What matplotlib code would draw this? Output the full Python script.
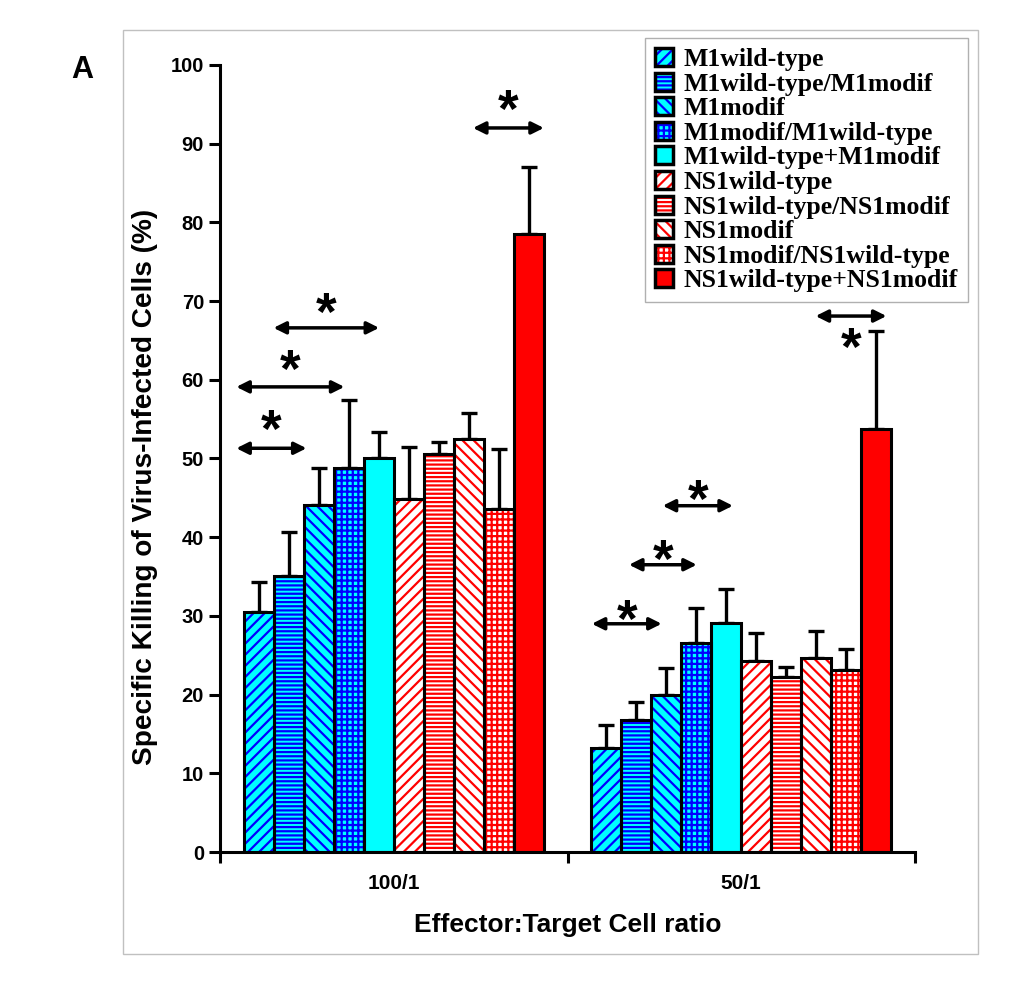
import numpy as np
import matplotlib
matplotlib.use("Agg")
import matplotlib.pyplot as plt
from matplotlib.patches import Patch, Rectangle
from matplotlib.legend_handler import HandlerTuple
from matplotlib.transforms import offset_copy

plt.rcParams['font.family'] = ['Liberation Sans', 'DejaVu Sans']
plt.rcParams['hatch.linewidth'] = 1.6

# data
groups = ['100/1', '50/1']
series = ['M1wild-type', 'M1wild-type/M1modif', 'M1modif', 'M1modif/M1wild-type',
          'M1wild-type+M1modif', 'NS1wild-type', 'NS1wild-type/NS1modif', 'NS1modif',
          'NS1modif/NS1wild-type', 'NS1wild-type+NS1modif']
vals_100 = [30.5, 35.1, 44.1, 48.8, 50.0, 44.9, 50.6, 52.5, 43.6, 78.5]
top_100 = [34.3, 40.7, 48.8, 57.4, 53.4, 51.5, 52.1, 55.8, 51.2, 87.0]
vals_50 = [13.2, 16.8, 20.0, 26.6, 29.1, 24.3, 22.2, 24.6, 23.1, 53.8]
top_50 = [16.1, 19.1, 23.4, 31.0, 33.4, 27.8, 23.5, 28.1, 25.8, 66.2]

# significance brackets: (x start, x end, arrow y, star y)
sig_x0 = [-0.453, -0.453, -0.346, 0.228, 0.570, 0.677, 0.774, 1.214]
sig_x1 = [-0.251, -0.142, -0.042, 0.432, 0.771, 0.872, 0.976, 1.418]
sig_y = [51.3, 59.1, 66.6, 92.0, 29.0, 36.5, 44.0, 68.1]
star_y = [54.9, 62.5, 69.8, 95.6, 30.7, 38.4, 46.0, 65.3]

# styles
faces = ['#00FFFF'] * 5 + ['white'] * 4 + ['#FF0000']
hatch_col = ['#0000FF'] * 5 + ['#FF0000'] * 5
hatches = ['///', '----', '\\\\\\', '+++', None, '///', '----', '\\\\\\', '+++', None]

fig = plt.figure(figsize=(10.17, 9.96), dpi=100)
ax = fig.add_axes([220 / 1017, 1 - 852 / 996, 695 / 1017, 787 / 996])

w = 30 / 348
xg = np.arange(len(groups))
vals = np.array([vals_100, vals_50])
tops = np.array([top_100, top_50])

handles = []
for i in range(len(series)):
    xs = xg + (i - 4.5) * w
    ax.bar(xs, vals[:, i], w, color=faces[i], edgecolor=hatch_col[i],
           hatch=hatches[i], linewidth=0, zorder=2)
    ax.bar(xs, vals[:, i], w, fill=False, edgecolor='black', linewidth=2.2, zorder=3)
    ax.errorbar(xs, vals[:, i], yerr=[np.zeros(2), tops[:, i] - vals[:, i]],
                fmt='none', ecolor='black', elinewidth=2.4, capsize=6, capthick=2.4, zorder=1)
    p1 = Patch(facecolor=faces[i], edgecolor=hatch_col[i], hatch=hatches[i], linewidth=0)
    p2 = Patch(fill=False, edgecolor='black', linewidth=2.5)
    handles.append((p1, p2))

star_tr = offset_copy(ax.transData, fig=fig, y=-13, units='dots')
for x0, x1, y, sy in zip(sig_x0, sig_x1, sig_y, star_y):
    ax.annotate('', xy=(x0, y), xytext=(x1, y),
                arrowprops=dict(arrowstyle='<|-|>', lw=2.5, color='black',
                                mutation_scale=18, shrinkA=0, shrinkB=0))
    ax.text((x0 + x1) / 2, sy, '*', ha='center', va='center', fontsize=38,
            fontweight='bold', transform=star_tr)

ax.set_xlim(-0.5, 1.5)
ax.set_ylim(0, 100)
ax.spines['top'].set_visible(False)
ax.spines['right'].set_visible(False)
ax.spines['left'].set_linewidth(2.2)
ax.spines['bottom'].set_linewidth(2.2)
ax.set_yticks(np.arange(0, 101, 10))
ax.set_xticks(xg)
ax.set_xticklabels(groups)
ax.set_xticks([-0.5, 0.5, 1.5], minor=True)
ax.tick_params(axis='x', which='major', length=0, pad=16, labelsize=15)
ax.tick_params(axis='x', which='minor', length=8, width=2.2, direction='out')
ax.tick_params(axis='y', length=8, width=2.2, direction='out', labelsize=14.5)
for lab in ax.get_xticklabels() + ax.get_yticklabels():
    lab.set_fontweight('bold')

ax.set_ylabel('Specific Killing of Virus-Infected Cells (%)', fontsize=20.2,
              fontweight='bold')
ax.yaxis.set_label_coords(-0.089, 0.464)
ax.set_xlabel('Effector:Target Cell ratio', fontsize=19, fontweight='bold', labelpad=14)

leg = ax.legend(handles, series, handler_map={tuple: HandlerTuple(ndivide=1)},
                loc='upper right', bbox_to_anchor=(968 / 1017, 1 - 38 / 996),
                bbox_transform=fig.transFigure, borderaxespad=0, fancybox=False,
                edgecolor='#b0b0b0', framealpha=1, handlelength=0.7, handleheight=0.7,
                handletextpad=0.4, labelspacing=0.06, borderpad=0.4,
                prop={'family': 'Liberation Serif', 'weight': 'bold', 'size': 18.5})
leg.get_frame().set_linewidth(1)
leg.set_zorder(5)

fig.text(82 / 1017, 1 - 70 / 996, 'A', fontsize=22, fontweight='bold', ha='center', va='center')
fig.patches.append(Rectangle((123 / 1017, 1 - 954 / 996), 855 / 1017, 924 / 996,
                             transform=fig.transFigure, fill=False, edgecolor='#c0c0c0',
                             linewidth=1))

fig.savefig('out.png', dpi=100)
